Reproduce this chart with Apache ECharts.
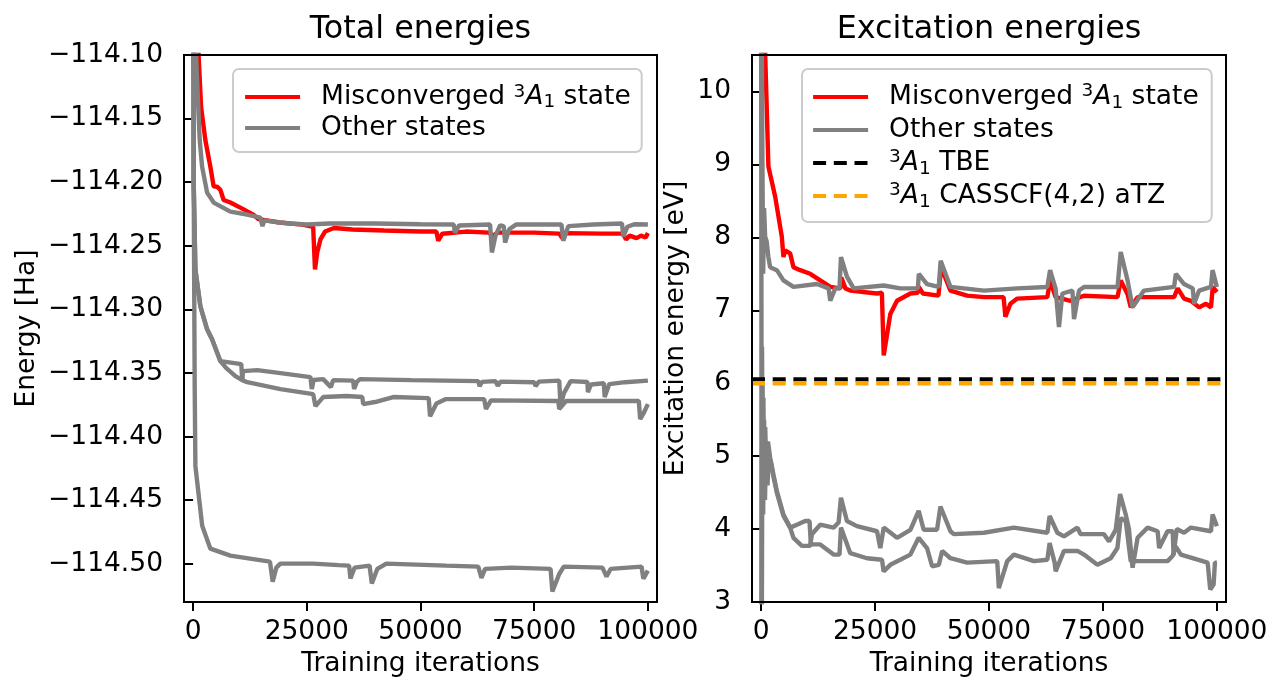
<!DOCTYPE html>
<html>
<head>
<meta charset="utf-8">
<title>Total energies / Excitation energies</title>
<script src="https://cdn.jsdelivr.net/npm/echarts@6/dist/echarts.min.js"></script>
<style>
  html, body { margin: 0; padding: 0; background: #fff; }
  #chart { width: 1271px; height: 683px; }
</style>
</head>
<body>
<div id="chart"></div>
<script>
// ---- data ----
const xTicks = [0, 25000, 50000, 75000, 100000]
const totTicks = [-114.50, -114.45, -114.40, -114.35, -114.30, -114.25, -114.20, -114.15, -114.10]
const excTicks = [3, 4, 5, 6, 7, 8, 9, 10]

// total energies [Ha] vs training iteration
const totMisconv = [
  [400, -114.00], [1230, -114.102], [1760, -114.141], [2700, -114.167], [3800, -114.188],
  [4530, -114.2035], [5270, -114.2035], [6000, -114.206], [6720, -114.214], [8200, -114.216],
  [10390, -114.220], [13250, -114.2255], [14350, -114.229], [19000, -114.2317], [24000, -114.2333],
  [26400, -114.235], [26800, -114.2686], [27300, -114.255], [28000, -114.245], [29000, -114.2388],
  [31000, -114.2360], [35000, -114.2372], [42000, -114.2380], [50000, -114.2388], [53500, -114.2388],
  [53900, -114.246], [54800, -114.2405], [60000, -114.2388], [65000, -114.2396], [66000, -114.2420],
  [67000, -114.2396], [75000, -114.2396], [80500, -114.2404], [81200, -114.2440], [82000, -114.2400],
  [90000, -114.2404], [94500, -114.2404], [95200, -114.2450], [96000, -114.2420], [97500, -114.2440],
  [98500, -114.2420], [99500, -114.2435], [100000, -114.2400]
]
const totState1 = [
  [200, -113.90], [505, -114.088], [1230, -114.1486], [1450, -114.1666], [1980, -114.1878],
  [3080, -114.2082], [4530, -114.2160], [8200, -114.2231], [11860, -114.2254], [14780, -114.2278],
  [15100, -114.2286], [15250, -114.2345], [15700, -114.2300], [19000, -114.2317], [21400, -114.2325],
  [25000, -114.2333], [30000, -114.2325], [40000, -114.2325], [50000, -114.2330], [57300, -114.2333],
  [57600, -114.2396], [58500, -114.2340], [65300, -114.2333], [65700, -114.2552], [66500, -114.2420],
  [67500, -114.2340], [68300, -114.2345], [68600, -114.2474], [69500, -114.2370], [71000, -114.2333],
  [81000, -114.2333], [81400, -114.2460], [82500, -114.2345], [88000, -114.2333], [94300, -114.2325],
  [94600, -114.2425], [95500, -114.2350], [97000, -114.2330], [100000, -114.2333]
]
const totStateA = [
  [0, -113.90], [130, -114.20], [505, -114.2686], [1600, -114.2976], [3080, -114.3156], [4170, -114.3234],
  [6000, -114.3407], [7300, -114.3462], [9300, -114.3524], [10800, -114.3556], [11000, -114.3485],
  [14100, -114.3477], [19200, -114.3501], [25800, -114.3532], [26100, -114.3626], [26500, -114.3555],
  [28600, -114.3548], [30300, -114.3611], [30800, -114.3556], [35200, -114.3560], [35400, -114.3626],
  [36000, -114.3570], [36700, -114.3548], [48000, -114.3556], [62700, -114.3564], [63000, -114.3603],
  [63500, -114.3570], [66500, -114.3564], [67000, -114.3600], [67600, -114.3568], [75000, -114.3572],
  [75300, -114.3603], [76000, -114.3568], [80500, -114.3560], [80800, -114.3760], [81500, -114.3660],
  [83000, -114.3564], [86700, -114.3570], [86800, -114.3650], [87500, -114.3590], [90300, -114.3580],
  [90500, -114.3689], [91500, -114.3587], [95000, -114.3572], [100000, -114.3560]
]
const totStateB = [
  [0, -113.90], [130, -114.20], [505, -114.2686], [1600, -114.2976], [3080, -114.3156], [4170, -114.3234],
  [6000, -114.3407], [10600, -114.3430], [10800, -114.3556], [11900, -114.3572], [19200, -114.3626],
  [26400, -114.3666], [26900, -114.3760], [28600, -114.3689], [33800, -114.3681], [37200, -114.3689],
  [37400, -114.3744], [40000, -114.3728], [44000, -114.3689], [51800, -114.3697], [52100, -114.3840],
  [53500, -114.3740], [55600, -114.3705], [64000, -114.3705], [64400, -114.3783], [65500, -114.3715],
  [80300, -114.3720], [80500, -114.3783], [82000, -114.3720], [98000, -114.3720], [98300, -114.3862],
  [99000, -114.3820], [100000, -114.3744]
]
const totGround = [
  [0, -113.80], [130, -114.20], [350, -114.36], [505, -114.4230], [2000, -114.4700], [3800, -114.4881],
  [8200, -114.4936], [12500, -114.4959], [16900, -114.4983], [17500, -114.5140], [18300, -114.5030],
  [19200, -114.4998], [26400, -114.4998], [32000, -114.5010], [34300, -114.5014], [34600, -114.5116],
  [35500, -114.5030], [38800, -114.5014], [39300, -114.5155], [40500, -114.5040], [42500, -114.4998],
  [55600, -114.5014], [62700, -114.5022], [63400, -114.5110], [64200, -114.5040], [70000, -114.5030],
  [78600, -114.5040], [79000, -114.5218], [80500, -114.5080], [81500, -114.5022], [90000, -114.5030],
  [90900, -114.5100], [91800, -114.5040], [98600, -114.5022], [99000, -114.5116], [100000, -114.5053]
]

// excitation energies [eV] vs training iteration
const excMisconv = [
  [300, 13.0], [900, 10.5], [1600, 8.97], [3080, 8.56], [4540, 8.01], [4900, 7.73], [5280, 7.82],
  [6370, 7.78], [7100, 7.59], [8570, 7.55], [10770, 7.50], [12970, 7.41], [15170, 7.32], [17400, 7.30],
  [17600, 7.45], [18500, 7.30], [19560, 7.27], [25430, 7.23], [26500, 7.24], [26900, 6.38], [28350, 6.95],
  [29820, 7.13], [32750, 7.23], [34400, 7.24], [34600, 7.32], [35500, 7.23], [38900, 7.20], [39500, 7.59],
  [41540, 7.27], [45200, 7.20], [48900, 7.18], [53200, 7.18], [53600, 6.91], [54700, 7.09], [56200, 7.16],
  [62800, 7.18], [63400, 7.41], [64600, 7.18], [67900, 7.13], [70800, 7.20], [78200, 7.18], [78900, 7.41],
  [80400, 7.22], [81100, 7.04], [82600, 7.18], [90600, 7.18], [91400, 7.30], [92800, 7.16], [94300, 7.13],
  [96100, 7.04], [97600, 7.09], [98700, 7.04], [99100, 7.32], [100000, 7.25]
]
const excState1 = [
  [0, 13.0], [250, 9.4], [450, 7.5], [650, 8.4], [880, 8.01], [1200, 7.95], [1600, 7.73], [1980, 7.59],
  [3450, 7.55], [4900, 7.41], [7100, 7.32], [12240, 7.36], [14800, 7.30], [15170, 7.13], [16270, 7.30],
  [17200, 7.30], [17520, 7.73], [18830, 7.46], [20300, 7.30], [26900, 7.34], [30550, 7.30], [34400, 7.30],
  [34600, 7.50], [36400, 7.36], [38970, 7.32], [39400, 7.68], [41540, 7.32], [48900, 7.27], [56200, 7.30],
  [62800, 7.32], [63400, 7.55], [64600, 7.30], [65350, 6.77], [66100, 7.23], [68300, 7.27], [68650, 6.88],
  [69750, 7.27], [70850, 7.32], [78200, 7.32], [78900, 7.80], [80400, 7.41], [81500, 7.04], [84000, 7.27],
  [90600, 7.32], [91000, 7.50], [92800, 7.36], [94700, 7.30], [95000, 7.09], [96100, 7.27], [98700, 7.32],
  [99050, 7.55], [100000, 7.32]
]
const excStateA = [
  [0, 1.0], [200, 6.5], [350, 4.3], [500, 5.8], [700, 4.5], [900, 5.4], [1200, 4.7], [1500, 5.2],
  [1980, 4.98], [2700, 4.75], [3450, 4.52], [4900, 4.20], [6370, 4.02], [7100, 3.88], [8940, 3.77],
  [10770, 3.77], [11140, 3.93], [12970, 4.06], [15900, 4.02], [17000, 4.09], [17520, 4.43], [18830, 4.11],
  [21030, 4.04], [25430, 3.97], [26150, 3.74], [26900, 4.02], [29820, 3.88], [32750, 3.99], [34570, 4.25],
  [35670, 3.99], [38600, 3.99], [39340, 4.31], [41540, 3.97], [42270, 3.93], [48860, 3.95], [55460, 4.02],
  [62800, 3.95], [63300, 4.18], [65000, 3.95], [66450, 3.90], [69400, 4.02], [70100, 3.93], [75240, 3.93],
  [76340, 3.83], [77800, 3.99], [78760, 4.48], [80000, 4.20], [80700, 4.00], [81500, 3.47], [82600, 3.88],
  [84800, 4.02], [87000, 3.97], [87330, 3.74], [89170, 3.97], [90300, 3.97], [90500, 3.64], [91200, 4.00],
  [92800, 3.95], [94300, 4.02], [98700, 3.97], [99060, 4.20], [100000, 4.04]
]
const excStateB = [
  [0, 11.0], [150, 2.5], [300, 6.0], [450, 4.2], [650, 5.5], [850, 4.4], [1100, 5.2], [1400, 4.6],
  [1700, 5.0], [2200, 4.90], [2700, 4.72], [3450, 4.50], [4900, 4.18], [6370, 4.02], [7850, 4.06],
  [9670, 4.11], [10620, 4.11], [10920, 3.79], [12970, 3.79], [15900, 3.65], [17200, 3.65], [17520, 4.02],
  [19560, 3.67], [23230, 3.60], [26520, 3.58], [26880, 3.42], [28350, 3.51], [32750, 3.65], [34570, 3.88],
  [36400, 3.74], [37520, 3.49], [39000, 3.51], [39720, 3.70], [41540, 3.60], [45200, 3.54], [51800, 3.56],
  [52160, 3.19], [54000, 3.56], [55460, 3.65], [59860, 3.56], [62800, 3.58], [63300, 3.81], [64400, 3.54],
  [64620, 3.42], [66450, 3.70], [69400, 3.70], [70840, 3.65], [73780, 3.51], [76700, 3.60], [78180, 3.74],
  [78900, 4.15], [80000, 4.11], [81100, 3.56], [89170, 3.56], [90270, 3.63], [91000, 3.76], [92100, 3.65],
  [95770, 3.58], [97970, 3.54], [98540, 3.17], [99280, 3.24], [99570, 3.54], [100000, 3.54]
]

// reference excitation energies [eV]
const tbeValue = 6.05
const casscfValue = 6.00

// ---- styling ----
const font = 'DejaVu Sans'
const fs = 26.5
const subFs = 18.5
const xMin = -2000
const xMax = 102000

const legendNames = {
  misconv: 'Misconverged {sup|3}{it|A}{sub|1} state',
  other: 'Other states',
  tbe: '{sup|3}{it|A}{sub|1} TBE',
  casscf: '{sup|3}{it|A}{sub|1} CASSCF(4,2) aTZ'
}

function richFor(lh) {
  return {
    sup: { fontFamily: font, fontSize: subFs, lineHeight: lh, verticalAlign: 'top', padding: [1, 0, 0, 0], color: '#000' },
    it: { fontFamily: font, fontSize: fs, lineHeight: lh, fontStyle: 'italic', color: '#000' },
    sub: { fontFamily: font, fontSize: subFs, lineHeight: lh, verticalAlign: 'bottom', padding: [0, 0, 1, 0], color: '#000' }
  }
}

function makeLegend(names, box, pad, lh) {
  return {
    data: names,
    orient: 'vertical',
    left: box.left,
    top: box.top,
    padding: pad,
    itemGap: 0,
    itemWidth: 55,
    itemHeight: 14,
    selectedMode: false,
    backgroundColor: 'rgba(255,255,255,0.8)',
    borderColor: '#cccccc',
    borderWidth: 2,
    borderRadius: 6,
    // line only, no symbol dot in the sample
    itemStyle: { opacity: 0 },
    lineStyle: { width: 4.2, opacity: 1 },
    formatter: name => legendNames[name],
    textStyle: {
      fontFamily: font,
      fontSize: fs,
      color: '#000',
      lineHeight: lh,
      padding: [0, 0, 0, 16],
      rich: richFor(lh)
    }
  }
}

function xAxisFor(gridIndex) {
  return {
    type: 'value',
    gridIndex: gridIndex,
    min: xMin,
    max: xMax,
    name: 'Training iterations',
    nameLocation: 'middle',
    nameGap: 49,
    nameTextStyle: { fontFamily: font, fontSize: fs, color: '#000' },
    axisLine: { show: false },
    axisTick: { customValues: xTicks, length: 9, lineStyle: { width: 2, color: '#000' } },
    axisLabel: { customValues: xTicks, margin: 17, fontFamily: font, fontSize: fs, color: '#000', formatter: v => String(v) },
    splitLine: { show: false }
  }
}

function yAxisFor(gridIndex, name, gap, min, max, ticks, fmt) {
  return {
    type: 'value',
    gridIndex: gridIndex,
    min: min,
    max: max,
    name: name,
    nameLocation: 'middle',
    nameGap: gap,
    nameTextStyle: { fontFamily: font, fontSize: fs, color: '#000' },
    axisLine: { show: false },
    axisTick: { customValues: ticks, length: 9, lineStyle: { width: 2, color: '#000' } },
    axisLabel: { customValues: ticks, margin: 21, fontFamily: font, fontSize: fs, color: '#000', formatter: fmt },
    splitLine: { show: false }
  }
}

function line(name, data, color, idx, dash) {
  return {
    name: name,
    type: 'line',
    xAxisIndex: idx,
    yAxisIndex: idx,
    data: data,
    symbol: 'none',
    showSymbol: false,
    clip: true,
    silent: true,
    lineStyle: { color: color, width: 4.4, type: dash || 'solid', cap: 'butt' },
    itemStyle: { color: color }
  }
}

const titleStyle = { fontFamily: font, fontSize: 31.8, fontWeight: 'normal', color: '#000' }

const option = {
  backgroundColor: '#fff',
  animation: false,
  title: [{
    text: 'Total energies',
    left: 420.5,
    top: 14,
    padding: 0,
    textAlign: 'center',
    textStyle: titleStyle
  }, {
    text: 'Excitation energies',
    left: 989,
    top: 14,
    padding: 0,
    textAlign: 'center',
    textStyle: titleStyle
  }],
  grid: [
    { left: 184, top: 55, width: 473, height: 547, show: true, borderColor: '#000', borderWidth: 2, backgroundColor: 'transparent', z: 10 },
    { left: 752, top: 55, width: 474, height: 547, show: true, borderColor: '#000', borderWidth: 2, backgroundColor: 'transparent', z: 10 }
  ],
  legend: [
    makeLegend(['misconv', 'other'], { left: 233, top: 69 }, [12.5, 11, 8.5, 10], 31),
    makeLegend(['misconv', 'other', 'tbe', 'casscf'], { left: 802, top: 69 }, [11.5, 13, 9.5, 9], 33)
  ],
  xAxis: [xAxisFor(0), xAxisFor(1)],
  yAxis: [
    yAxisFor(0, 'Energy [Ha]', 143, -114.53, -114.10, totTicks, v => '\u2212' + Math.abs(v).toFixed(2)),
    yAxisFor(1, 'Excitation energy [eV]', 62, 3, 10.5, excTicks, v => String(v))
  ],
  series: [
    line('misconv', totMisconv, '#ff0000', 0),
    line('other', totState1, '#808080', 0),
    line('other', totStateA, '#808080', 0),
    line('other', totStateB, '#808080', 0),
    line('other', totGround, '#808080', 0),
    line('misconv', excMisconv, '#ff0000', 1),
    line('other', excState1, '#808080', 1),
    line('other', excStateA, '#808080', 1),
    line('other', excStateB, '#808080', 1),
    line('tbe', [[xMin, tbeValue], [xMax, tbeValue]], '#000000', 1, [13, 7.7]),
    line('casscf', [[xMin, casscfValue], [xMax, casscfValue]], '#ffa500', 1, [13, 7.7])
  ]
}

const chart = echarts.init(document.getElementById('chart'), null, { renderer: 'canvas' })
chart.setOption(option)
</script>
</body>
</html>
